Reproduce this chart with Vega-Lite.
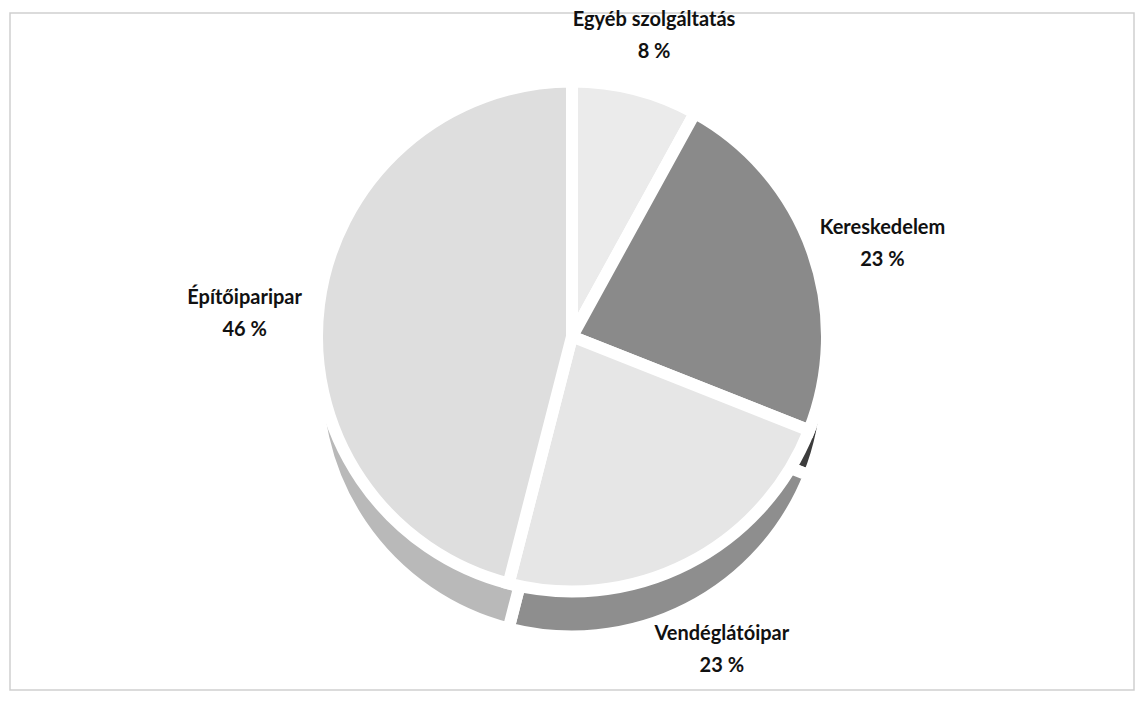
{
  "$schema": "https://vega.github.io/schema/vega-lite/v6.json",
  "width": 1142,
  "height": 715,
  "autosize": {"type": "fit", "contains": "padding"},
  "padding": {"left": 10, "top": 10, "right": 8, "bottom": 25},
  "config": {"view": {"stroke": "#cfcfcf", "strokeWidth": 1.5}},
  "data": {
    "values": [
      {"sector": "Egyéb szolgáltatás", "pct": 8, "order": 1, "label": "Egyéb szolgáltatás\n8 %"},
      {"sector": "Kereskedelem", "pct": 23, "order": 2, "label": "Kereskedelem\n23 %"},
      {"sector": "Vendéglátóipar", "pct": 23, "order": 3, "label": "Vendéglátóipar\n23 %"},
      {"sector": "Építőiparipar", "pct": 46, "order": 4, "label": "Építőiparipar\n46 %"}
    ]
  },
  "layer": [
    {
      "mark": {"type": "point", "opacity": 0},
      "encoding": {
        "x": {"field": "pct", "type": "quantitative", "axis": null},
        "y": {"field": "order", "type": "quantitative", "axis": null}
      }
    },
    {
      "mark": {"type": "arc", "outerRadius": 255, "yOffset": 30, "stroke": "white", "strokeWidth": 12},
      "encoding": {
        "theta": {"field": "pct", "type": "quantitative", "stack": true},
        "order": {"field": "order", "type": "quantitative"},
        "fill": {
          "field": "sector", "type": "nominal", "legend": null,
          "scale": {"domain": ["Egyéb szolgáltatás", "Kereskedelem", "Vendéglátóipar", "Építőiparipar"],
                    "range": ["#c4c4c4", "#3c3c3c", "#8e8e8e", "#b9b9b9"]}
        }
      }
    },
    {
      "mark": {"type": "arc", "outerRadius": 255, "yOffset": -15, "stroke": "white", "strokeWidth": 12},
      "encoding": {
        "theta": {"field": "pct", "type": "quantitative", "stack": true},
        "order": {"field": "order", "type": "quantitative"},
        "color": {
          "field": "sector", "type": "nominal", "legend": null,
          "scale": {"domain": ["Egyéb szolgáltatás", "Kereskedelem", "Vendéglátóipar", "Építőiparipar"],
                    "range": ["#ebebeb", "#8a8a8a", "#e6e6e6", "#dedede"]}
        }
      }
    },
    {
      "mark": {"type": "text", "radius": 330, "yOffset": -12, "font": "Lato", "fontWeight": "bold", "fontSize": 20, "lineBreak": "\n", "lineHeight": 32, "color": "#111111"},
      "encoding": {
        "theta": {"field": "pct", "type": "quantitative", "stack": true},
        "order": {"field": "order", "type": "quantitative"},
        "text": {"field": "label", "type": "nominal"}
      }
    }
  ],
  "resolve": {"scale": {"color": "independent", "fill": "independent"}}
}
